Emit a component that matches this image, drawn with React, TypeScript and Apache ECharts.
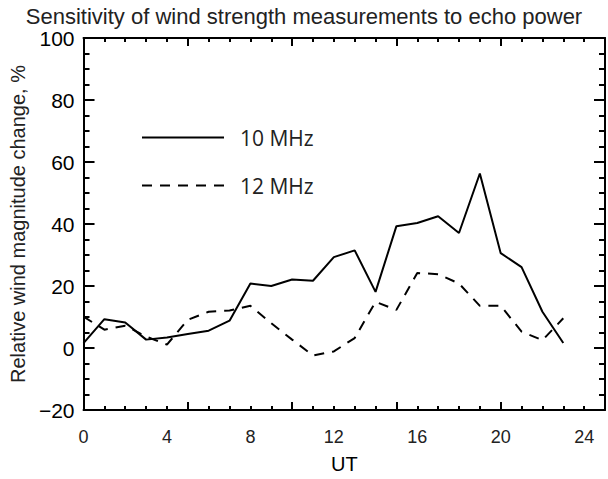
import React, { useEffect, useRef } from "react";
import * as echarts from "echarts";

const hours = [0, 1, 2, 3, 4, 5, 6, 7, 8, 9, 10, 11, 12, 13, 14, 15, 16, 17, 18, 19, 20, 21, 22, 23];
const mhz10 = [1.6, 9.3, 8.2, 2.7, 3.4, 4.5, 5.6, 8.8, 20.8, 20.0, 22.1, 21.7, 29.3, 31.5, 18.1, 39.3, 40.3, 42.5, 37.1, 56.3, 30.6, 26.1, 11.7, 1.6];
const mhz12 = [10.1, 5.9, 7.2, 3.7, 1.1, 9.1, 11.7, 12.1, 13.6, 8.0, 2.7, -2.4, -1.1, 3.2, 14.9, 12.3, 24.2, 23.8, 20.8, 13.6, 13.6, 5.3, 2.5, 9.6];
const seriesNames = ["10 MHz", "12 MHz"];
const titleText = "Sensitivity of wind strength measurements to echo power";
const xName = "UT";
const yName = "Relative wind magnitude change, %";

const FONT = "Liberation Sans, Arial, Helvetica, sans-serif";

export default function App() {
  const ref = useRef<HTMLDivElement>(null);
  useEffect(() => {
    if (!ref.current) return;
    const chart = echarts.init(ref.current, null, { renderer: "svg" });
    const tickAxisBase = {
      type: "value" as const,
      min: 0,
      max: 25,
      interval: 5,
      axisLine: { show: true, onZero: false, lineStyle: { color: "#000", width: 2 } },
      axisTick: { show: true, inside: true, length: 8, lineStyle: { color: "#000", width: 2 } },
      minorTick: { show: true, splitNumber: 5, length: 4, lineStyle: { color: "#000", width: 2 } },
      axisLabel: { show: false },
      splitLine: { show: false },
      minorSplitLine: { show: false },
    };
    const yBase = {
      type: "value" as const,
      min: -20,
      max: 100,
      interval: 20,
      axisLine: { show: true, onZero: false, lineStyle: { color: "#000", width: 2 } },
      axisTick: { show: true, inside: true, length: 11, lineStyle: { color: "#000", width: 2 } },
      minorTick: { show: true, splitNumber: 4, length: 6, lineStyle: { color: "#000", width: 2 } },
      splitLine: { show: false },
      minorSplitLine: { show: false },
    };
    chart.setOption({
      animation: false,
      backgroundColor: "#fff",
      title: {
        text: titleText,
        left: "center",
        top: 0,
        textStyle: { fontFamily: FONT, fontSize: 22, fontWeight: "normal", color: "#222" },
      },
      legend: {
        orient: "vertical",
        left: 136,
        top: 122,
        itemWidth: 82,
        itemHeight: 14,
        itemGap: 27,
        data: seriesNames,
        itemStyle: { opacity: 0 },
        textStyle: { fontFamily: "Open Sans, Noto Sans, sans-serif", fontSize: 21, color: "#222", padding: [0, 0, 0, 11] },
      },
      grid: { left: 79, top: 38, width: 531, height: 376, containLabel: false },
      xAxis: [
        { ...tickAxisBase, position: "bottom" },
        {
          type: "value",
          position: "bottom",
          min: 0,
          max: 25,
          interval: 4,
          axisLine: { show: false },
          axisTick: { show: false },
          splitLine: { show: false },
          axisLabel: { show: true, margin: 18, fontFamily: FONT, fontSize: 18, color: "#222",
            formatter: (v: number) => (v <= 24 ? String(v) : "") },
          name: xName,
          nameLocation: "middle",
          nameGap: 44,
          nameTextStyle: { fontFamily: FONT, fontSize: 20, color: "#000" },
        },
        { ...tickAxisBase, position: "top" },
      ],
      yAxis: [
        {
          ...yBase,
          position: "left",
          axisLabel: { show: true, margin: 9, fontFamily: FONT, fontSize: 21, color: "#000",
            formatter: (v: number) => (v < 0 ? "\u2212" + String(-v) : String(v)) },
          name: yName,
          nameLocation: "middle",
          nameGap: 52,
          nameTextStyle: { fontFamily: FONT, fontSize: 20, color: "#222" },
        },
        { ...yBase, position: "right", axisLabel: { show: false } },
      ],
      series: [
        {
          name: seriesNames[0],
          type: "line",
          xAxisIndex: 0,
          yAxisIndex: 0,
          data: hours.map((h, i) => [h, mhz10[i]]),
          symbol: "none",
          lineStyle: { color: "#000", width: 2, type: "solid" },
          itemStyle: { color: "#000" },
        },
        {
          name: seriesNames[1],
          type: "line",
          xAxisIndex: 0,
          yAxisIndex: 0,
          data: hours.map((h, i) => [h, mhz12[i]]),
          symbol: "none",
          lineStyle: { color: "#000", width: 2, type: [10, 8] },
          itemStyle: { color: "#000" },
        },
      ],
    });
    return () => chart.dispose();
  }, []);
  return (
    <div
      ref={ref}
      style={{ position: "fixed", left: 0, top: 0, width: 608, height: 479, background: "#fff" }}
    />
  );
}
